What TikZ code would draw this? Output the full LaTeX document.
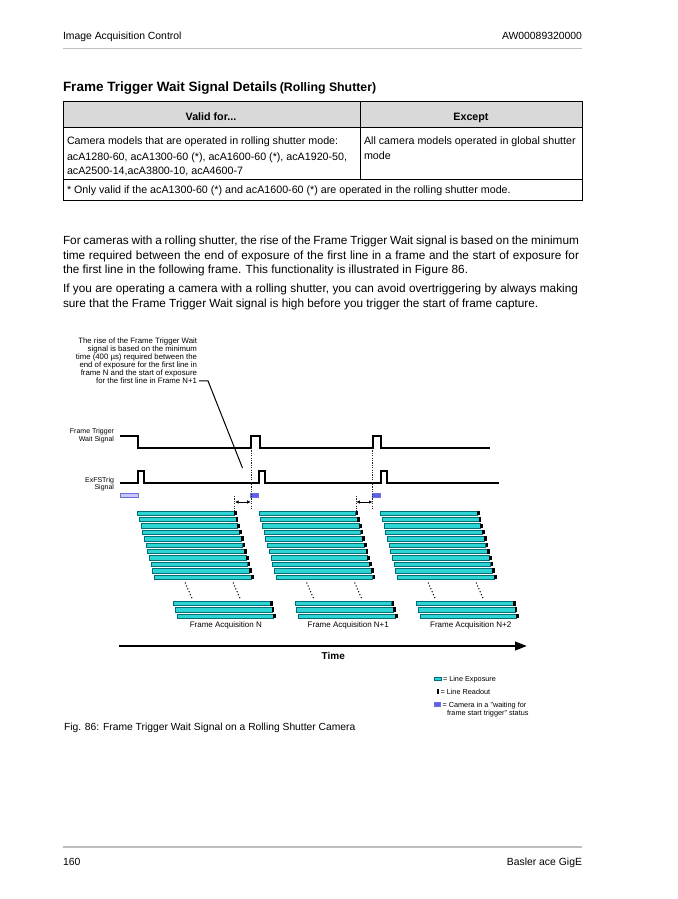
\documentclass[tikz,border=0pt]{standalone}
\usepackage{fontspec}
\setmainfont{Liberation Sans}
\usetikzlibrary{arrows.meta}
\definecolor{rulegray}{RGB}{190,190,190}
\definecolor{hdrgray}{RGB}{217,217,217}
\definecolor{barfill}{RGB}{45,212,212}
\definecolor{barline}{RGB}{0,110,120}
\definecolor{waitfill}{RGB}{95,95,235}
\definecolor{waitpale}{RGB}{200,200,246}
\definecolor{waitline}{RGB}{110,110,220}
\newcommand\setfs[1]{\fontsize{#1}{#1}\selectfont}
\begin{document}
\begin{tikzpicture}[x=1pt,y=-1pt,
  t/.style={inner sep=0pt,outer sep=0pt},
  hdrtxt/.style={t,font=\setfs{10.4}},
  bodytxt/.style={t,anchor=base west,font=\setfs{11.8}},
  tabtxt/.style={t,anchor=base west,font=\setfs{10.7}},
  tabhead/.style={t,anchor=base,font=\setfs{10.7}\bfseries},
  anntxt/.style={t,anchor=base east,font=\setfs{7.8}},
  sigtxt/.style={t,anchor=base east,font=\setfs{7}},
  acqtxt/.style={t,anchor=base,font=\setfs{8}},
  legtxt/.style={t,anchor=base west,font=\setfs{7.3}},
  wave/.style={line width=1.4pt,line join=miter},
  vdots/.style={line width=0.8pt,dash pattern=on 1.2pt off 1.2pt,black!85},
  slantdots/.style={line width=1.5pt,dash pattern=on 0pt off 3.2pt,line cap=round},
  barbox/.style={fill=barfill,draw=barline,line width=0.4pt},
  tabline/.style={line width=0.9pt,draw=black}
]
\useasboundingbox (0,0) rectangle (677,899);
\fill[white] (0,0) rectangle (677,899);

% ---------- page header ----------
\node[hdrtxt,anchor=base west] (hl) at (63,39.6) {Image Acquisition Control};
\node[hdrtxt,anchor=base east] (hr) at (582,39.6) {AW00089320000};
\draw[rulegray,line width=1.6pt] (63,48.5) -- (582,48.5);

% ---------- title ----------
\node[t,anchor=base west,font=\bfseries] (title) at (63,91.2)
  {{\setfs{13.5}Frame Trigger Wait Signal Details} {\setfs{12.3}(Rolling Shutter)}};

% ---------- table ----------
\fill[hdrgray] (63,101) rectangle (582,127.5);
\draw[tabline] (63,101) rectangle (582,200);
\draw[tabline] (63,127.5) -- (582,127.5);
\draw[tabline] (63,179.5) -- (582,179.5);
\draw[tabline] (360,101) -- (360,179.5);
\node[tabhead] (th1) at (211,120.7) {Valid for...};
\node[tabhead] (th2) at (471,120.7) {Except};
\node[tabtxt] (r1a) at (67,144.2) {Camera models that are operated in rolling shutter mode:};
\node[tabtxt] (r1b) at (67,160.7) {acA1280-60, acA1300-60 (*), acA1600-60 (*), acA1920-50,};
\node[tabtxt] (r1c) at (67,174.7) {acA2500-14,acA3800-10, acA4600-7};
\node[tabtxt] (r2a) at (364,144.2) {All camera models operated in global shutter};
\node[tabtxt] (r2b) at (364,159.7) {mode};
\node[tabtxt] (r3) at (67,193.7) {* Only valid if the acA1300-60 (*) and acA1600-60 (*) are operated in the rolling shutter mode.};

% ---------- body text ----------
\node[bodytxt] (p1a) at (63,244.1) {\makebox[516pt][s]{For cameras with a rolling shutter, the rise of the Frame Trigger Wait signal is based on the minimum}};
\node[bodytxt] (p1b) at (63,259.1) {\makebox[516pt][s]{time required between the end of exposure of the first line in a frame and the start of exposure for}};
\node[bodytxt] (p1c) at (63,273.6) {the first line in the following frame. This functionality is illustrated in Figure 86.};
\node[bodytxt] (p2a) at (63,292.6) {\makebox[515pt][s]{If you are operating a camera with a rolling shutter, you can avoid overtriggering by always making}};
\node[bodytxt] (p2b) at (63,307.6) {sure that the Frame Trigger Wait signal is high before you trigger the start of frame capture.};

% ---------- annotation ----------
\node[anntxt] (an1) at (197,343.7) {The rise of the Frame Trigger Wait};
\node[anntxt] (an2) at (197,351.7) {signal is based on the minimum};
\node[anntxt] (an3) at (197,359.7) {time (400 µs) required between the};
\node[anntxt] (an4) at (197,367.7) {end of exposure for the first line in};
\node[anntxt] (an5) at (197,375.7) {frame N and the start of exposure};
\node[anntxt] (an6) at (197,383.7) {for the first line in Frame N+1};
\coordinate (annend) at (242.5,468);
\draw[line width=1pt] ([xshift=2pt]an6.east) -- ++(9,0) -- (annend);

% ---------- signal labels ----------
\node[sigtxt] (ftw1) at (114,433.5) {Frame Trigger};
\node[sigtxt] (ftw2) at (114,441) {Wait Signal};
\node[sigtxt] (exf1) at (114,482) {ExFSTrig};
\node[sigtxt] (exf2) at (114,489.5) {Signal};

% ---------- waveforms ----------
\draw[wave] (120,436) -| (138,448) -| (251,436) -| (260,448) -| (373,436) -| (381,448) -- (490,448);
\draw[wave] (120,483) -| (138,471) -| (144,483) -| (259,471) -| (265,483) -| (381,471) -| (387,483) -- (499,483);

% waiting status boxes
\filldraw[fill=waitpale,draw=waitline,line width=0.4pt] (120.5,493.5) rectangle (138.5,497);
\filldraw[fill=waitfill,draw=waitline,line width=0.4pt] (250.5,493) rectangle (258.5,497.5);
\filldraw[fill=waitfill,draw=waitline,line width=0.4pt] (372.5,493) rectangle (380.5,497.5);

% dotted reference lines
\draw[vdots] (251,448) -- (251,510);
\draw[vdots] (372.8,448) -- (372.8,510);
\draw[vdots] (234.7,496) -- (234.7,511);
\draw[vdots] (356,496) -- (356,511);
\draw[line width=0.8pt,{Latex[length=3.5pt,width=3.5pt]}-{Latex[length=3.5pt,width=3.5pt]}] (235,502) -- (250.7,502);
\draw[line width=0.8pt,{Latex[length=3.5pt,width=3.5pt]}-{Latex[length=3.5pt,width=3.5pt]}] (356.3,502) -- (372.5,502);

% ---------- line exposures ----------
\foreach \f in {0,1,2} {
  \foreach \i in {0,...,10} {
    \pgfmathsetmacro\xl{137.3+1.7*\i+121.5*\f}
    \pgfmathsetmacro\yc{513+6.4*\i}
    \draw[barbox] (\xl,\yc-2.2) rectangle (\xl+96.7,\yc+2.2);
    \fill[black] (\xl+96.7,\yc-2.2) rectangle (\xl+99.4,\yc+2.2);
  }
  \foreach \j in {0,1,2} {
    \pgfmathsetmacro\xl{173.3+1.7*\j+121.5*\f}
    \pgfmathsetmacro\yc{603.3+6.35*\j}
    \draw[barbox] (\xl,\yc-2.2) rectangle (\xl+96.7,\yc+2.2);
    \fill[black] (\xl+96.7,\yc-2.2) rectangle (\xl+99.4,\yc+2.2);
  }
  \pgfmathsetmacro\xo{121.5*\f}
  \draw[slantdots] (185.3+\xo,583) -- (192.3+\xo,599);
  \draw[slantdots] (233.3+\xo,583) -- (240.3+\xo,599);
}

\node[acqtxt] (fa0) at (225.8,627.3) {Frame Acquisition N};
\node[acqtxt] (fa1) at (348.3,627.3) {Frame Acquisition N+1};
\node[acqtxt] (fa2) at (470.7,627.3) {Frame Acquisition N+2};

% ---------- time axis ----------
\coordinate (tstart) at (119.3,646);
\coordinate (tend) at (527,646);
\draw[line width=2.4pt,-{Triangle[length=12pt,width=8.5pt]}] (tstart) -- (tend);
\node[t,anchor=base,font=\setfs{10}\bfseries] (timelbl) at (333.3,659) {Time};

% ---------- legend ----------
\draw[barbox] (434.5,676.8) rectangle (441,680.6);
\node[legtxt] (lg1) at (443,681.2) {= Line Exposure};
\fill[black] (437,689) rectangle (438.8,694);
\node[legtxt] (lg2) at (440.5,694) {= Line Readout};
\filldraw[fill=waitfill,draw=waitline,line width=0.4pt] (434.5,702.5) rectangle (440.5,706.5);
\node[legtxt] (lg3) at (442.5,707.5) {= Camera in a "waiting for};
\node[legtxt] (lg4) at (447,715.5) {frame start trigger" status};

% ---------- caption ----------
\node[t,anchor=base west,font=\setfs{10.3}] (cap) at (64,730.6) {Fig. 86: Frame Trigger Wait Signal on a Rolling Shutter Camera};

% ---------- footer ----------
\draw[rulegray,line width=1.6pt] (63,847) -- (582,847);
\node[hdrtxt,anchor=base west] (fl) at (63,865.6) {160};
\node[hdrtxt,anchor=base east] (fr) at (582,865.6) {Basler ace GigE};
\end{tikzpicture}
\end{document}
